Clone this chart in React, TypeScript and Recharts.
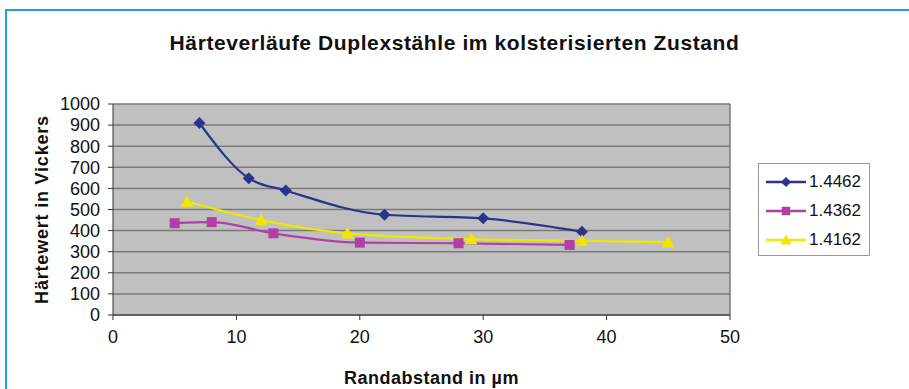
import { CartesianGrid, Label, Line, LineChart, XAxis, YAxis } from 'recharts';

// Randabstand (µm) und Härte (HV) je Werkstoff
const abstand4462 = [7, 11, 14, 22, 30, 38];
const haerte4462 = [910, 648, 590, 475, 458, 395];
const abstand4362 = [5, 8, 13, 20, 28, 37];
const haerte4362 = [435, 440, 387, 343, 340, 332];
const abstand4162 = [6, 12, 19, 29, 38, 45];
const haerte4162 = [538, 450, 387, 360, 352, 345];

const xTicks = [0, 10, 20, 30, 40, 50];
const yTicks = [0, 100, 200, 300, 400, 500, 600, 700, 800, 900, 1000];

const toPoints = (xs: number[], ys: number[]) => xs.map((x, i) => ({ x, hv: ys[i] }));

const series = [
  { name: '1.4462', data: toPoints(abstand4462, haerte4462), color: '#2a3488', marker: 'diamond' },
  { name: '1.4362', data: toPoints(abstand4362, haerte4362), color: '#b040a8', marker: 'square' },
  { name: '1.4162', data: toPoints(abstand4162, haerte4162), color: '#f0e600', marker: 'triangle' },
];

const font = '"Liberation Sans", Arial, sans-serif';

function Marker({ cx, cy, kind, color, s = 1 }: { cx: number; cy: number; kind: string; color: string; s?: number }) {
  if (kind === 'diamond') {
    const r = 6 * s;
    return <polygon points={`${cx},${cy - r} ${cx + r},${cy} ${cx},${cy + r} ${cx - r},${cy}`} fill={color} />;
  }
  if (kind === 'square') {
    const r = 5 * s;
    return <rect x={cx - r} y={cy - r} width={2 * r} height={2 * r} fill={color} />;
  }
  const r = 6.5 * s;
  return <polygon points={`${cx},${cy - r} ${cx + r},${cy + r * 0.8} ${cx - r},${cy + r * 0.8}`} fill={color} />;
}

export default function App() {
  return (
    <div style={{ position: 'absolute', left: 0, top: 0, width: 909, height: 389, overflow: 'hidden', background: '#fff', fontFamily: font }}>
      <div style={{ position: 'absolute', left: 5, top: 9, width: 950, height: 450, borderTop: '2px solid #19a5d8', borderLeft: '2px solid #19a5d8' }} />
      <div style={{ position: 'absolute', left: 0, width: 909, top: 31, textAlign: 'center', fontWeight: 'bold', fontSize: 21, letterSpacing: 0.6, color: '#111' }}>
        Härteverläufe Duplexstähle im kolsterisierten Zustand
      </div>
      <LineChart width={909} height={389} margin={{ top: 104, right: 179, bottom: 0, left: 0 }} style={{ position: 'absolute', left: 0, top: 0 }}>
        <CartesianGrid
          fill="#c0c0c0"
          stroke="#7a7a7a"
          strokeWidth={1.5}
          verticalCoordinatesGenerator={({ offset }: any) => [offset.left + offset.width]}
        />
        <XAxis
          type="number"
          dataKey="x"
          domain={[0, 50]}
          ticks={xTicks}
          height={74}
          stroke="#333"
          tickSize={5}
          tickMargin={10}
          tick={{ fill: '#111', fontSize: 18, fontFamily: font }}
          allowDuplicatedCategory={false}
        >
          <Label value="Randabstand in µm" position="insideBottom" offset={5} dx={10} style={{ fontWeight: 'bold', fontSize: 18, letterSpacing: 0.5, fill: '#111', fontFamily: font }} />
        </XAxis>
        <YAxis
          type="number"
          domain={[0, 1000]}
          ticks={yTicks}
          width={113}
          stroke="#333"
          tickSize={5}
          tickMargin={8}
          interval={0}
          tick={{ fill: '#111', fontSize: 18, fontFamily: font }}
        >
          <Label value="Härtewert in Vickers" angle={-90} position="insideLeft" offset={42} style={{ textAnchor: 'middle', fontWeight: 'bold', fontSize: 18, letterSpacing: 0.8, fill: '#111', fontFamily: font }} />
        </YAxis>
        {series.map((s) => (
          <Line
            key={s.name}
            data={s.data}
            dataKey="hv"
            name={s.name}
            type="monotone"
            stroke={s.color}
            strokeWidth={2.2}
            isAnimationActive={false}
            dot={(p: any) => <Marker key={`${s.name}-${p.index}`} cx={p.cx} cy={p.cy} kind={s.marker} color={s.color} />}
            activeDot={false}
          />
        ))}
      </LineChart>
      <div style={{ position: 'absolute', left: 758, top: 163, width: 110, height: 91, border: '1.5px solid #999', background: '#fff' }}>
        {series.map((s, i) => (
          <div key={s.name} style={{ position: 'absolute', left: 5, top: 7 + i * 29, height: 22, display: 'flex', alignItems: 'center' }}>
            <svg width={44} height={22}>
              <line x1={2} y1={11} x2={42} y2={11} stroke={s.color} strokeWidth={2.5} />
              <Marker cx={22} cy={11} kind={s.marker} color={s.color} s={0.85} />
            </svg>
            <span style={{ fontSize: 17, color: '#111', marginLeft: 1 }}>{s.name}</span>
          </div>
        ))}
      </div>
    </div>
  );
}
